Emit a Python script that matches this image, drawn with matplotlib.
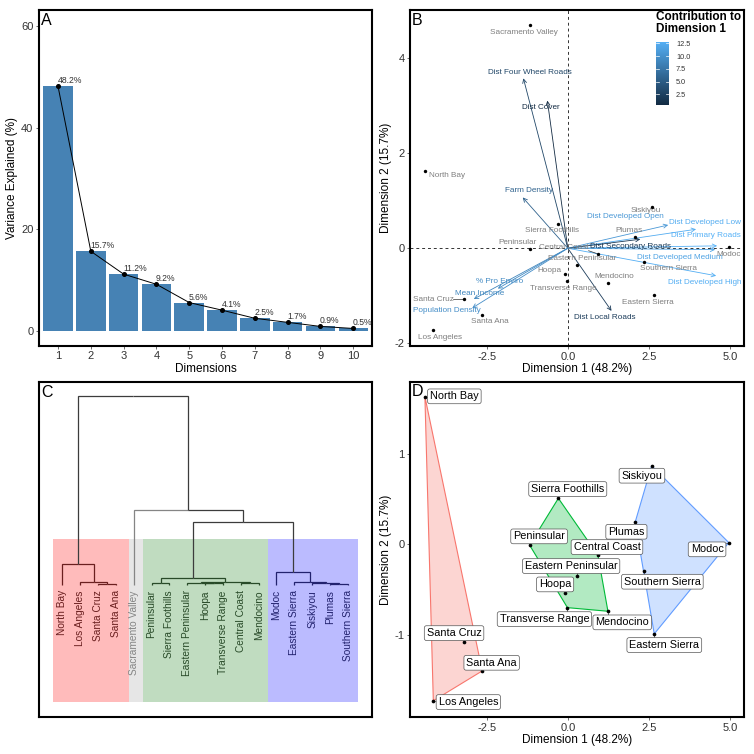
import matplotlib
matplotlib.use("Agg")
import matplotlib.pyplot as plt
import numpy as np
from matplotlib.colors import LinearSegmentedColormap, Normalize
from matplotlib.patches import Rectangle, Polygon

plt.rcParams['font.family'] = ['Liberation Sans', 'DejaVu Sans']

# ---------------- data ----------------
dims = [1, 2, 3, 4, 5, 6, 7, 8, 9, 10]
variance = [48.2, 15.7, 11.2, 9.2, 5.6, 4.1, 2.5, 1.7, 0.9, 0.5]

sites = ["North Bay", "Los Angeles", "Santa Cruz", "Santa Ana", "Sacramento Valley",
         "Peninsular", "Sierra Foothills", "Eastern Peninsular", "Hoopa", "Transverse Range",
         "Central Coast", "Mendocino", "Modoc", "Eastern Sierra", "Siskiyou", "Plumas",
         "Southern Sierra"]
dim1 = [-4.41, -4.15, -3.20, -2.64, -1.17, -1.18, -0.29, 0.27, -0.09, -0.01,
        0.93, 1.24, 4.97, 2.67, 2.59, 2.08, 2.35]
dim2 = [1.635, -1.73, -1.08, -1.40, 4.70, -0.007, 0.51, -0.35, -0.54, -0.70,
        -0.12, -0.74, 0.02, -0.99, 0.87, 0.245, -0.295]
cluster = [1, 1, 1, 1, 2, 3, 3, 3, 3, 3, 3, 3, 4, 4, 4, 4, 4]

# label positions (panel B, plain text)
labB_x = [-4.29, -3.95, -4.16, -2.40, -1.36, -1.56, -0.485, 0.46, -0.556, -0.154,
          -0.12, 1.44, 4.97, 2.48, 2.40, 1.88, 3.10]
labB_y = [1.53, -1.88, -1.07, -1.55, 4.554, 0.119, 0.372, -0.225, -0.463, -0.842,
          0.021, -0.60, -0.13, -1.14, 0.80, 0.379, -0.43]
labB_ha = ['left'] + ['center'] * 16

# label positions (panel D, boxed labels)
labD_x = [-3.50, -3.07, -3.51, -2.35, -1.17, -0.885, 0.0, 0.103, -0.39, -0.72,
          1.21, 1.68, 4.30, 2.98, 2.29, 1.81, 2.92]
labD_y = [1.638, -1.745, -0.982, -1.310, 4.55, 0.0886, 0.612, -0.240, -0.443, -0.827,
          -0.030, -0.863, -0.055, -1.114, 0.760, 0.140, -0.413]

variables = ["Dist Four Wheel Roads", "Dist Cover", "Farm Density", "Dist Developed Open",
             "Dist Developed Low", "Dist Primary Roads", "Dist Secondary Roads",
             "Dist Developed Medium", "Dist Developed High", "Dist Local Roads",
             "% Pro Enviro", "Mean Income", "Population Density"]
var_x = [-1.37, -0.63, -1.39, 3.10, 3.96, 4.61, 2.24, 4.55, 4.58, 1.35, -2.16, -2.90, -2.95]
var_y = [3.58, 3.11, 1.07, 0.49, 0.40, 0.05, 0.19, -0.03, -0.58, -1.32, -0.85, -1.07, -1.26]
var_contrib = [3.0, 0.4, 5.5, 10.5, 12.3, 12.81, 1.8, 11.5, 12.5, 2.0, 9.3, 8.8, 9.6]
var_lab_x = [-1.17, -0.82, -1.19, 1.78, 4.25, 4.26, 1.93, 3.46, 4.22, 1.14, -2.10, -2.73, -3.74]
var_lab_y = [3.705, 2.97, 1.207, 0.67, 0.533, 0.260, 0.042, -0.198, -0.716, -1.460,
             -0.709, -0.95, -1.31]

# dendrogram merges (linkage style; 'mK' refers to merge K)
merge_left = ["Santa Cruz", "Los Angeles", "North Bay", "Peninsular", "Hoopa",
              "Eastern Peninsular", "Central Coast", "m5", "m3", "Plumas", "Siskiyou",
              "Eastern Sierra", "Modoc", "m8", "Sacramento Valley", "m2"]
merge_right = ["Santa Ana", "m0", "m1", "Sierra Foothills", "Transverse Range", "m4",
               "Mendocino", "m6", "m7", "Southern Sierra", "m9", "m10", "m11", "m12",
               "m13", "m14"]
merge_height = [0.05, 0.14, 1.10, 0.09, 0.09, 0.13, 0.10, 0.143, 0.39, 0.05, 0.09,
                0.14, 0.70, 3.32, 3.96, 10.0]
rect_left = [0.5, 4.76, 5.51, 12.52]
rect_right = [4.76, 5.51, 12.52, 17.55]

# ---------------- styles ----------------
W = H = 754.0
fig = plt.figure(figsize=(7.54, 7.54), dpi=100)


def ax_px(l, t, r, b):
    return fig.add_axes([l / W, 1 - b / H, (r - l) / W, (b - t) / H])


def style(ax):
    for s in ax.spines.values():
        s.set_linewidth(1.5)
        s.set_color('black')
    ax.tick_params(length=2.5, width=0.5, color='#333333', labelsize=8,
                   labelcolor='#333333', pad=1.5)


def letter(ax, t):
    ax.text(0.006, 0.992, t, transform=ax.transAxes, ha='left', va='top',
            fontsize=11.5, color='black', zorder=10)


axA = ax_px(39, 10, 372.3, 345.7)
axB = ax_px(410, 10, 744, 346)
axC = ax_px(39, 382, 372.3, 717)
axD = ax_px(410, 381.7, 744, 717)

# ---------------- Panel A ----------------
axA.bar(dims, variance, width=0.9, color='#4682B4', zorder=2)
axA.plot(dims, variance, color='black', lw=0.7, marker='o', ms=2.6, zorder=3)
for d, v in zip(dims, variance):
    axA.text(d - 0.02, v + 0.2, f'{v}%', ha='left', va='bottom', fontsize=6.2,
             color='#333333', zorder=4)
axA.set_xlim(0.42, 10.58)
axA.set_ylim(-2.9, 63.25)
axA.set_xticks(dims)
axA.set_yticks([0, 20, 40, 60])
axA.set_xlabel('Dimensions', fontsize=8.5, labelpad=1)
axA.set_ylabel('Variance Explained (%)', fontsize=8.5, labelpad=2)
style(axA)
letter(axA, 'A')

# ---------------- Panel B ----------------
cmap = LinearSegmentedColormap.from_list('gg', ['#132B43', '#56B1F7'])
norm = Normalize(vmin=min(var_contrib), vmax=max(var_contrib))
axB.axhline(0, color='#333333', lw=0.7, ls=(0, (3, 3)), zorder=1)
axB.axvline(0, color='#333333', lw=0.7, ls=(0, (3, 3)), zorder=1)
for name, x, y, c, lx, ly in zip(variables, var_x, var_y, var_contrib, var_lab_x, var_lab_y):
    col = cmap(norm(c))
    axB.annotate('', xy=(x, y), xytext=(0, 0),
                 arrowprops=dict(arrowstyle='->', color=col, lw=0.6, shrinkA=0, shrinkB=0,
                                 mutation_scale=7), zorder=2)
    axB.text(lx, ly, name, color=col, fontsize=5.9, ha='center', va='center', zorder=3,
             clip_on=True)
axB.scatter(dim1, dim2, s=6, c='black', zorder=4, linewidths=0)
txtB = []
for s, lx, ly, ha in zip(sites, labB_x, labB_y, labB_ha):
    txtB.append(axB.text(lx, ly, s, color='#7F7F7F', fontsize=5.9, ha=ha, va='center',
                         zorder=3, clip_on=True))
axB.set_xlim(-4.87, 5.44)
axB.set_ylim(-2.06, 5.02)
axB.set_xticks([-2.5, 0.0, 2.5, 5.0])
axB.set_xticklabels(['-2.5', '0.0', '2.5', '5.0'])
axB.set_yticks([-2, 0, 2, 4])
axB.set_yticklabels(['-2', '0', '2', '4'])
axB.set_xlabel('Dimension 1 (48.2%)', fontsize=8.5, labelpad=1)
axB.set_ylabel('Dimension 2 (15.7%)', fontsize=8.5, labelpad=2)
style(axB)
letter(axB, 'B')

# colorbar
cax = fig.add_axes([656 / W, 1 - 105 / H, 13 / W, 63.3 / H])
grad = np.linspace(norm.vmin, norm.vmax, 256).reshape(-1, 1)
cax.imshow(grad, aspect='auto', cmap=cmap, norm=norm, origin='lower',
           extent=[0, 1, norm.vmin, norm.vmax])
cax.set_xlim(0, 1)
cax.set_ylim(norm.vmin, norm.vmax)
cax.set_xticks([])
cbt = [2.5, 5.0, 7.5, 10.0, 12.5]
cax.yaxis.tick_right()
cax.set_yticks(cbt)
cax.set_yticklabels([f'{t:.1f}' for t in cbt])
cax.tick_params(axis='y', length=0, labelsize=5.3, labelcolor='#333333', pad=5)
for t in cbt:
    cax.plot([0, 0.2], [t, t], color='white', lw=0.5)
    cax.plot([0.8, 1], [t, t], color='white', lw=0.5)
for s in cax.spines.values():
    s.set_visible(False)
fig.text(656 / W, 1 - 10.5 / H, 'Contribution to\nDimension 1', fontsize=8.5,
         fontweight='bold', ha='left', va='top', linespacing=1.0)

# ---------------- Panel C ----------------
clus_col = {1: '#6A1F1F', 2: '#858585', 3: '#284A28', 4: '#22226E'}
rect_col = ['#FFBBBB', '#E6E6E6', '#C0DCC0', '#BBBBFF']
top_col = '#3C3C3C'
node = {}
for i, s in enumerate(sites):
    node[s] = (i + 1.0, 0.0, cluster[i], True)
for k, (a, b, h) in enumerate(zip(merge_left, merge_right, merge_height)):
    xa, ha_, ca, la = node[a]
    xb, hb, cb, lb = node[b]
    cl = ca if (ca is not None and ca == cb) else None
    for (xc, hc, cc, lc) in [(xa, ha_, ca, la), (xb, hb, cb, lb)]:
        if cl is not None:
            col = clus_col[cl]
        elif lc:
            col = clus_col[cc]
        else:
            col = top_col
        xm = (xa + xb) / 2
        axC.plot([xc, xc, xm], [hc, h, h], color=col, lw=0.9, zorder=3,
                 solid_capstyle='butt', solid_joinstyle='miter')
    node['m%d' % k] = ((xa + xb) / 2, h, cl, False)

for l, r, c in zip(rect_left, rect_right, rect_col):
    axC.add_patch(Rectangle((l, -6.2), r - l, 6.2 + 2.42, facecolor=c, edgecolor='none',
                            zorder=1))
for i, s in enumerate(sites):
    axC.text(i + 1, -0.28, s, rotation=90, ha='center', va='top', fontsize=7.3,
             color=clus_col[cluster[i]], zorder=4)
axC.set_xlim(-0.31, 18.37)
axC.set_ylim(-7.0, 10.76)
axC.set_xticks([])
axC.set_yticks([])
style(axC)
letter(axC, 'C')

# ---------------- Panel D ----------------
hull_col = {1: '#F8766D', 3: '#00BA38', 4: '#619CFF'}


def convex_hull(pts):
    pts = sorted(set(pts))
    if len(pts) < 3:
        return pts

    def cross(o, a, b):
        return (a[0] - o[0]) * (b[1] - o[1]) - (a[1] - o[1]) * (b[0] - o[0])
    lower, upper = [], []
    for p in pts:
        while len(lower) >= 2 and cross(lower[-2], lower[-1], p) <= 0:
            lower.pop()
        lower.append(p)
    for p in reversed(pts):
        while len(upper) >= 2 and cross(upper[-2], upper[-1], p) <= 0:
            upper.pop()
        upper.append(p)
    return lower[:-1] + upper[:-1]


for g, col in hull_col.items():
    pts = [(x, y) for x, y, c in zip(dim1, dim2, cluster) if c == g]
    hull = convex_hull(pts)
    axD.add_patch(Polygon(hull, closed=True, facecolor=col, alpha=0.3, edgecolor='none',
                          zorder=1))
    axD.add_patch(Polygon(hull, closed=True, facecolor='none', edgecolor=col, lw=0.8,
                          zorder=2))
axD.scatter(dim1, dim2, s=7, c='black', zorder=4, linewidths=0)
txtD = []
for s, lx, ly in zip(sites, labD_x, labD_y):
    txtD.append(axD.text(lx, ly, s, fontsize=7.8, ha='center', va='center', color='black',
                         zorder=5, clip_on=True,
                         bbox=dict(boxstyle='round,pad=0.22,rounding_size=0.2',
                                   facecolor='white', edgecolor='#555555', lw=0.5)))
axD.set_xlim(-4.87, 5.44)
axD.set_ylim(-1.91, 1.80)
axD.set_xticks([-2.5, 0.0, 2.5, 5.0])
axD.set_xticklabels(['-2.5', '0.0', '2.5', '5.0'])
axD.set_yticks([-1, 0, 1])
axD.set_yticklabels(['-1', '0', '1'])
axD.set_xlabel('Dimension 1 (48.2%)', fontsize=8.5, labelpad=1)
axD.set_ylabel('Dimension 2 (15.7%)', fontsize=8.5, labelpad=2)
style(axD)
letter(axD, 'D')

# ---------------- connector segments (repel style) ----------------
fig.canvas.draw()
renderer = fig.canvas.get_renderer()


def connectors(ax, texts, use_patch, thresh, col, zorder):
    inv = ax.transData.inverted()
    for t, x, y in zip(texts, dim1, dim2):
        if use_patch:
            bb = t.get_bbox_patch().get_window_extent(renderer)
        else:
            bb = t.get_window_extent(renderer)
        p = ax.transData.transform((x, y))
        cx = min(max(p[0], bb.x0), bb.x1)
        cy = min(max(p[1], bb.y0), bb.y1)
        d = np.hypot(p[0] - cx, p[1] - cy)
        if d > thresh:
            f = 1.5 / d
            sx = p[0] + (cx - p[0]) * f
            sy = p[1] + (cy - p[1]) * f
            a = inv.transform((sx, sy))
            b = inv.transform((cx, cy))
            ax.plot([a[0], b[0]], [a[1], b[1]], color=col, lw=0.5, zorder=zorder)


connectors(axB, txtB, False, 8, '#333333', 3)
connectors(axD, txtD, True, 2.5, '#333333', 3)

fig.savefig('out.png', dpi=100)
